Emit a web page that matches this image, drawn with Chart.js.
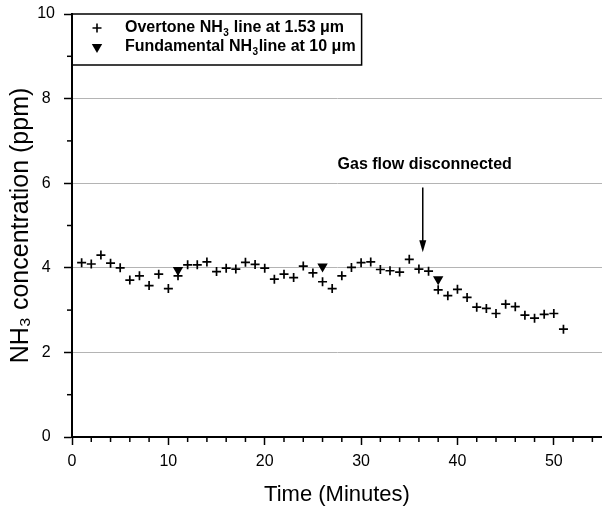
<!DOCTYPE html>
<html><head><meta charset="utf-8">
<script src="https://cdn.jsdelivr.net/npm/chart.js@4.4.0/dist/chart.umd.min.js"></script>
<style>html,body{margin:0;padding:0;background:#fff;}</style>
</head><body>
<canvas id="c" width="602" height="506"></canvas>
<script>
// ---- data ----
const overtoneMinutes = [1,2,3,4,5,6,7,8,9,10,11,12,13,14,15,16,17,18,19,20,21,22,23,24,25,26,27,28,29,30,31,32,33,34,35,36,37,38,39,40,41,42,43,44,45,46,47,48,49,50,51];
const overtonePpm = [4.12,4.09,4.30,4.11,4.00,3.71,3.81,3.58,3.85,3.51,3.81,4.07,4.07,4.14,3.91,3.99,3.97,4.13,4.08,3.99,3.73,3.85,3.77,4.04,3.88,3.67,3.51,3.81,4.01,4.12,4.14,3.96,3.93,3.90,4.20,3.97,3.92,3.48,3.34,3.49,3.30,3.07,3.04,2.92,3.14,3.08,2.88,2.81,2.90,2.92,2.55];
const fundamentalMinutes = [11,26,38];
const fundamentalPpm = [3.95,4.03,3.73];
const xTickValues = [0,10,20,30,40,50];
const yTickValues = [0,2,4,6,8,10];
const seriesNames = ['Overtone NH\u2083 line at 1.53 \u03bcm', 'Fundamental NH\u2083line at 10 \u03bcm'];
const xTitle = 'Time (Minutes)';
const yTitle = 'NH\u2083 concentration (ppm)';
const noteText = 'Gas flow disconnected';
const noteMinute = 36.6, notePpm = 6.45;
const arrowMinute = 36.4, arrowFromPpm = 5.9, arrowToPpm = 4.37;

const toPts = (xs, ys) => xs.map((x, i) => ({x, y: ys[i]}));
const FONT = '"Liberation Sans", Arial, sans-serif';

function drawPlus(ctx, x, y, r) {
  ctx.beginPath(); ctx.moveTo(x - r, y); ctx.lineTo(x + r, y);
  ctx.moveTo(x, y - r); ctx.lineTo(x, y + r); ctx.stroke();
}
function drawDownTri(ctx, x, y, r) {
  const w = r * Math.sqrt(3) / 2;
  ctx.beginPath(); ctx.moveTo(x - w, y - r / 2); ctx.lineTo(x + w, y - r / 2);
  ctx.lineTo(x, y + r); ctx.closePath(); ctx.fill();
}
function richText(ctx, txt, x, y, size) {
  const parts = txt.split('\u2083');
  let cx = x;
  parts.forEach((p, i) => {
    ctx.font = 'bold ' + size + 'px ' + FONT;
    ctx.fillText(p, cx, y); cx += ctx.measureText(p).width;
    if (i < parts.length - 1) {
      ctx.font = 'bold ' + Math.round(size * 0.62) + 'px ' + FONT;
      ctx.fillText('3', cx + 0.5, y + size * 0.32); cx += ctx.measureText('3').width + 1;
    }
  });
  return cx - x;
}

const decor = {
  id: 'decor',
  afterDraw(chart) {
    const ctx = chart.ctx, xs = chart.scales.x, ys = chart.scales.y, a = chart.chartArea;
    ctx.save();
    ctx.strokeStyle = '#000'; ctx.fillStyle = '#000'; ctx.lineWidth = 1.5;
    for (let v = 2; v <= xs.max; v += 2) {
      if (v % 10 === 0) continue;
      const px = xs.getPixelForValue(v);
      ctx.beginPath(); ctx.moveTo(px, a.bottom); ctx.lineTo(px, a.bottom + 5); ctx.stroke();
    }
    for (let v = 1; v < ys.max; v += 2) {
      const py = ys.getPixelForValue(v);
      ctx.beginPath(); ctx.moveTo(a.left - 5, py); ctx.lineTo(a.left, py); ctx.stroke();
    }
    // legend
    const size = 16;
    ctx.textBaseline = 'middle'; ctx.textAlign = 'left';
    const rows = [a.top + 14, a.top + 33];
    const tx = a.left + 53, mx = a.left + 25;
    let maxW = 0;
    seriesNames.forEach((n, i) => { maxW = Math.max(maxW, richText(ctx, n, tx, rows[i], size)); });
    ctx.lineWidth = 1.6;
    drawPlus(ctx, mx, rows[0], 4.5);
    drawDownTri(ctx, mx, rows[1], 6);
    ctx.lineWidth = 1.5;
    ctx.strokeRect(a.left, a.top, tx + maxW + 6 - a.left, 51);
    // arrow
    const ax = xs.getPixelForValue(arrowMinute);
    const y1 = ys.getPixelForValue(arrowFromPpm), y2 = ys.getPixelForValue(arrowToPpm);
    ctx.lineWidth = 1.5;
    ctx.beginPath(); ctx.moveTo(ax, y1); ctx.lineTo(ax, y2 - 8); ctx.stroke();
    ctx.beginPath(); ctx.moveTo(ax - 3.5, y2 - 12); ctx.lineTo(ax + 3.5, y2 - 12); ctx.lineTo(ax, y2); ctx.closePath(); ctx.fill();
    // note
    ctx.font = 'bold 16px ' + FONT;
    ctx.textAlign = 'center';
    ctx.fillText(noteText, xs.getPixelForValue(noteMinute), ys.getPixelForValue(notePpm));
    ctx.restore();
  }
};

new Chart(document.getElementById('c'), {
  type: 'scatter',
  data: {
    datasets: [
      { label: seriesNames[0], data: toPts(overtoneMinutes, overtonePpm), pointStyle: 'cross', radius: 4.5, borderWidth: 1.7, borderColor: '#000', backgroundColor: '#000', order: 2 },
      { label: seriesNames[1], data: toPts(fundamentalMinutes, fundamentalPpm), pointStyle: 'triangle', rotation: 180, radius: 6, borderWidth: 0, borderColor: '#000', backgroundColor: '#000', order: 1 }
    ]
  },
  options: {
    responsive: false, animation: false, devicePixelRatio: 1,
    layout: { autoPadding: false, padding: { top: 14, right: 0, left: 0, bottom: 0 } },
    plugins: { legend: { display: false }, tooltip: { enabled: false } },
    scales: {
      x: {
        type: 'linear', min: 0, max: 55,
        afterBuildTicks: s => { s.ticks = xTickValues.map(v => ({ value: v })); },
        afterFit: s => { s.height = 69; s.paddingRight = 0; s.paddingLeft = 0; },
        border: { color: '#000', width: 2 },
        grid: { drawOnChartArea: false, drawTicks: true, tickLength: 8, tickColor: '#000', tickWidth: 1.5 },
        ticks: { color: '#000', padding: 7, font: { family: FONT, size: 16 }, maxRotation: 0 },
        title: { display: true, text: xTitle, color: '#000', font: { family: FONT, size: 22, lineHeight: 1 }, padding: { top: 4, bottom: 0 } }
      },
      y: {
        type: 'linear', min: 0, max: 10,
        afterBuildTicks: s => { s.ticks = yTickValues.map(v => ({ value: v })); },
        afterFit: s => { s.width = 72; s.paddingTop = 0; s.paddingBottom = 0; },
        border: { color: '#000', width: 2 },
        grid: {
          drawTicks: true, tickLength: 8, tickWidth: 1.5,
          tickColor: '#000',
          color: c => (c.tick && c.tick.value > 0 && c.tick.value < 10) ? '#b4b4b4' : 'rgba(0,0,0,0)',
          lineWidth: 1
        },
        ticks: { color: '#000', padding: 9, crossAlign: 'center', font: { family: FONT, size: 16 } },
        title: { display: true, text: yTitle, color: '#000', font: { family: FONT, size: 25, lineHeight: 1 }, padding: { top: 9, bottom: 0 } }
      }
    }
  },
  plugins: [decor]
});
</script>
</body></html>
